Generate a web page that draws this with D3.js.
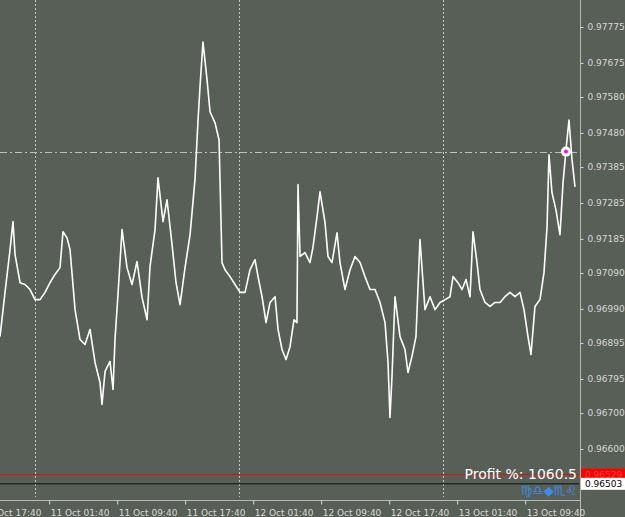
<!DOCTYPE html>
<html><head><meta charset="utf-8">
<script src="https://cdn.jsdelivr.net/npm/d3@7"></script>
<style>body{margin:0;background:#585f57}svg{display:block}</style></head>
<body><svg id="c" width="625" height="517"></svg>
<script>
// hours relative to 11 Oct 00:00, price
const hours=[-4.12,-3.53,-2.94,-2.59,-2.35,-1.76,-1.18,-0.59,0,0.59,1.18,1.76,2.35,2.94,3.29,3.76,4.12,4.71,5.29,5.88,6.47,7.06,7.65,7.88,8.24,8.82,9.18,9.41,9.76,10.24,10.82,11.41,12.0,12.59,13.18,13.53,14.12,14.47,15.06,15.53,16.12,16.59,17.06,17.65,18.24,18.82,19.18,19.41,19.76,20.24,20.59,21.18,21.65,22.0,22.35,22.94,23.53,24.12,24.71,25.29,25.88,26.24,26.71,27.18,27.65,28.24,28.59,29.06,29.53,30.0,30.47,30.82,30.94,31.18,31.76,32.35,32.71,33.18,33.53,34.12,34.47,34.94,35.53,35.88,36.47,37.06,37.65,38.24,38.82,39.41,40.0,40.59,41.18,41.53,41.76,42.0,42.35,42.94,43.53,43.88,44.35,44.82,45.29,45.88,46.47,47.06,47.65,48.24,48.82,49.18,49.76,50.24,50.71,51.18,51.53,52.0,52.35,52.94,53.53,54.12,54.71,55.29,55.88,56.47,57.06,57.53,58.0,58.35,58.82,59.41,59.88,60.24,60.47,60.82,61.29,61.76,62.12,62.47,62.82,63.18,63.53];
const prices=[0.96913,0.97036,0.97155,0.97233,0.97141,0.97063,0.97058,0.97044,0.97016,0.97016,0.97036,0.97063,0.97086,0.97105,0.97205,0.97188,0.97155,0.96988,0.96905,0.96891,0.96933,0.96841,0.96785,0.96724,0.96816,0.96844,0.96766,0.96905,0.97030,0.97211,0.97105,0.97058,0.97122,0.97022,0.96960,0.97108,0.97211,0.97355,0.97233,0.97294,0.97169,0.97063,0.97002,0.97105,0.97197,0.97350,0.97516,0.97608,0.97733,0.97628,0.97539,0.97508,0.97461,0.97119,0.97099,0.97080,0.97058,0.97036,0.97036,0.97099,0.97127,0.97080,0.97024,0.96952,0.97008,0.97024,0.96933,0.96877,0.96849,0.96885,0.96960,0.96952,0.97336,0.97136,0.97147,0.97119,0.97163,0.97247,0.97316,0.97230,0.97136,0.97119,0.97202,0.97119,0.97044,0.97099,0.97136,0.97119,0.97080,0.97044,0.97044,0.97008,0.96952,0.96841,0.96688,0.96802,0.97024,0.96913,0.96877,0.96813,0.96858,0.96913,0.97183,0.96988,0.97024,0.96988,0.97008,0.97016,0.97024,0.97080,0.97063,0.97044,0.97072,0.97024,0.97205,0.97119,0.97044,0.97008,0.96997,0.97008,0.97008,0.97024,0.97036,0.97024,0.97036,0.96988,0.96913,0.96863,0.96997,0.97016,0.97091,0.97219,0.97419,0.97314,0.97266,0.97197,0.97341,0.97433,0.97516,0.97405,0.97330];
const yTicks=[0.97775,0.97675,0.97580,0.97480,0.97385,0.97285,0.97185,0.97090,0.96990,0.96895,0.96795,0.96700,0.96600];
const xTickHours=[-6.333,1.667,9.667,17.667,25.667,33.667,41.667,49.667,57.667];
const xTickLabels=["10 Oct 17:40","11 Oct 01:40","11 Oct 09:40","11 Oct 17:40","12 Oct 01:40","12 Oct 09:40","12 Oct 17:40","13 Oct 01:40","13 Oct 09:40"];
const dayLines=[0,24,48];
const bidLine=0.96529, askLine=0.96503, levelLine=0.97428;
const marker=[62.47,0.97428];

const svg=d3.select("#c");
const W=579,H=497;
const x=d3.scaleLinear().domain([-4.12,64.0]).range([0,W]);
const y=d3.scaleLinear().domain([0.96600,0.97775]).range([449,27]);
const fg="#d8d8d8";
svg.append("defs").append("clipPath").attr("id","cp").append("rect").attr("width",W).attr("height",H);
const g=svg.append("g").attr("clip-path","url(#cp)");
g.selectAll(".day").data(dayLines).enter().append("line").attr("x1",d=>Math.round(x(d))+0.5).attr("x2",d=>Math.round(x(d))+0.5)
 .attr("y1",0).attr("y2",H).attr("stroke","#c8c8c8").attr("stroke-dasharray","2,2");
g.append("line").attr("x1",0).attr("x2",W).attr("y1",Math.round(y(levelLine))+0.5).attr("y2",Math.round(y(levelLine))+0.5)
 .attr("stroke","#c0c0c0").attr("stroke-dasharray","7,3,2,3");
g.append("line").attr("x1",0).attr("x2",W).attr("y1",y(bidLine)).attr("y2",y(bidLine)).attr("stroke","#e01010").attr("stroke-width",1);
g.append("line").attr("x1",0).attr("x2",W).attr("y1",y(askLine)).attr("y2",y(askLine)).attr("stroke","#101010").attr("stroke-width",1);
const pts=hours.map((h,i)=>[h,prices[i]]);
g.append("path").datum(pts).attr("fill","none").attr("stroke","#ffffff").attr("stroke-width",1.6).attr("stroke-linejoin","round")
 .attr("d",d3.line().x(d=>x(d[0])).y(d=>y(d[1])));
g.append("circle").attr("cx",x(marker[0])).attr("cy",y(marker[1])).attr("r",5).attr("fill","#fff");
g.append("circle").attr("cx",x(marker[0])).attr("cy",y(marker[1])).attr("r",2).attr("fill","#ff00ff");
// axes
svg.append("line").attr("x1",W+1.5).attr("x2",W+1.5).attr("y1",0).attr("y2",517).attr("stroke","#b8b8b8");
svg.append("line").attr("x1",0).attr("x2",W+1).attr("y1",H+3.5).attr("y2",H+3.5).attr("stroke","#b8b8b8");
const ya=svg.append("g").attr("transform",`translate(${W+1.5},0)`).call(d3.axisRight(y).tickValues(yTicks).tickFormat(d3.format(".5f")).tickSize(3).tickPadding(4));
ya.select(".domain").remove();
ya.selectAll("line").attr("stroke",fg);
ya.selectAll("text").attr("fill",fg).style("font","9px 'DejaVu Sans'");
const xa=svg.append("g").attr("transform",`translate(0,${H+3.5})`).call(d3.axisBottom(x).tickValues(xTickHours).tickFormat((d,i)=>xTickLabels[i]).tickSize(4));
xa.select(".domain").remove();
xa.selectAll("line").attr("stroke",fg);
xa.selectAll("text").attr("fill",fg).attr("text-anchor","start").attr("x",1).attr("dy","0.9em").style("font","9px 'DejaVu Sans'");
// price labels
function tag(v,bg,col){const yy=y(v);
 svg.append("rect").attr("x",W+2).attr("y",yy-6).attr("width",44).attr("height",12).attr("fill",bg);
 svg.append("text").attr("x",W+6).attr("y",yy+3.5).attr("fill",col).style("font","9px 'DejaVu Sans'").text(d3.format(".5f")(v));}
tag(bidLine,"#ff0000","#ff4040");tag(askLine,"#ffffff","#000000");
svg.append("text").attr("x",W-2).attr("y",479).attr("text-anchor","end").attr("fill","#ffffff").style("font","14px 'DejaVu Sans'").text("Profit %: 1060.5");
svg.append("text").attr("x",W-2).attr("y",495).attr("text-anchor","end").attr("fill","#3b8ee8").style("font","13px 'DejaVu Sans'").text("♍♎◆♏♌");
</script></body></html>
